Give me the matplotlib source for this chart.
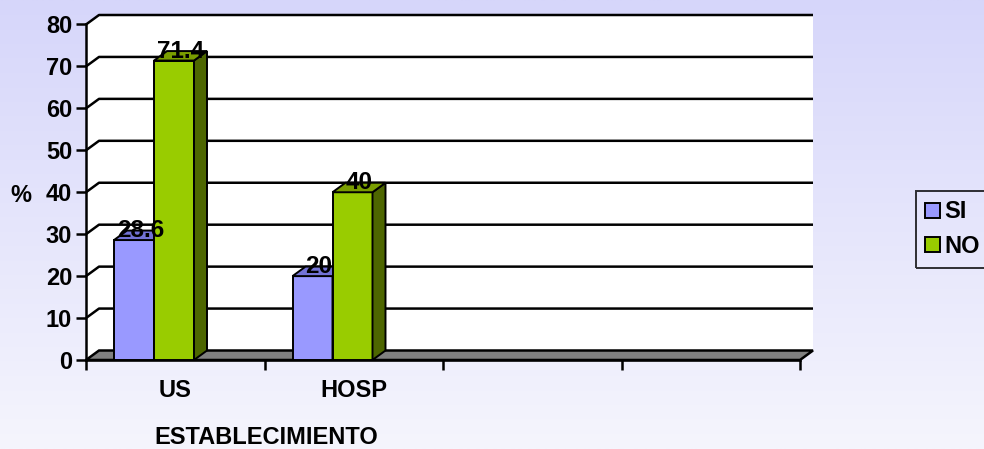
import numpy as np
import matplotlib.pyplot as plt
from matplotlib.patches import Polygon, Patch

# ============== data ==============
categories = ["US", "HOSP", "", ""]
si_values = [28.6, 20]
no_values = [71.4, 40]
series_names = ["SI", "NO"]
y_ticks = [0, 10, 20, 30, 40, 50, 60, 70, 80]

# ============== style ==============
plt.rcParams['font.family'] = ['Liberation Sans', 'DejaVu Sans']
plt.rcParams['font.weight'] = 'bold'
si_front, si_top = '#9999FF', '#7373D6'
no_front, no_side, no_top = '#99CC00', '#4D6600', '#7A9E00'
fs = 17

W, H = 984, 449
fig = plt.figure(figsize=(W / 100, H / 100), dpi=100)

# background gradient
bg = fig.add_axes([0, 0, 1, 1], zorder=-10)
top_c = np.array([214, 214, 250]) / 255
bot_c = np.array([245, 245, 253]) / 255
t = np.linspace(0, 1, 256)[:, None, None]
grad = top_c * (1 - t) + bot_c * t
bg.imshow(np.repeat(grad, 2, axis=1), aspect='auto', extent=[0, 1, 0, 1])
bg.axis('off')

# main axes (front plane)
x0, x1, y_bot, y_top = 86, 800, 360, 24.5
ax = fig.add_axes([x0 / W, 1 - y_bot / H, (x1 - x0) / W, (y_bot - y_top) / H])
ax.set_xlim(0, len(categories))
ax.set_ylim(0, 80)
ax.patch.set_alpha(0)
for s in ['top', 'right']:
    ax.spines[s].set_visible(False)
ax.spines['left'].set_linewidth(1.8)
ax.spines['bottom'].set_linewidth(1.8)

# depth offset in data units
n = len(categories)
dx = 13 / (x1 - x0) * n
dy = 9.5 / (y_bot - y_top) * 80

# walls
wall = Polygon([(0, 0), (0, 80), (dx, 80 + dy), (n + dx, 80 + dy), (n + dx, dy), (n, 0)],
               closed=True, facecolor='white', edgecolor='none', clip_on=False, zorder=0)
ax.add_patch(wall)
for v in y_ticks[1:]:
    ax.plot([0, dx, n + dx], [v, v + dy, v + dy], color='black', lw=1.8,
            clip_on=False, zorder=1, solid_capstyle='butt')
floor = Polygon([(0, 0), (n, 0), (n + dx, dy), (dx, dy)], closed=True,
                facecolor='#808080', edgecolor='black', lw=1.8, clip_on=False, zorder=2)
ax.add_patch(floor)

# bars
bw = 40 / (x1 - x0) * n
off = 28 / (x1 - x0) * n


def bar3d(xs, vals, front, side, top):
    ax.bar(xs, vals, width=bw, align='edge', color=front, edgecolor='black',
           lw=1.4, zorder=3, clip_on=False)
    for xl, v in zip(xs, vals):
        xr = xl + bw
        ax.add_patch(Polygon([(xr, 0), (xr + dx, dy), (xr + dx, v + dy), (xr, v)],
                             closed=True, facecolor=side, edgecolor='black', lw=1.4,
                             zorder=3, clip_on=False))
        ax.add_patch(Polygon([(xl, v), (xr, v), (xr + dx, v + dy), (xl + dx, v + dy)],
                             closed=True, facecolor=top, edgecolor='black', lw=1.4,
                             zorder=3, clip_on=False))
        ax.text(xl + bw / 2 + dx / 2, v + dy, f"{v:g}", ha='center', va='center',
                fontsize=fs + 0.5, fontweight='bold', zorder=5)


pos = np.arange(len(si_values))
bar3d(pos + off, si_values, si_front, '#5555AA', si_top)
bar3d(pos + off + bw, no_values, no_front, no_side, no_top)

# axes ticks
ax.set_yticks(y_ticks)
ax.tick_params(axis='y', direction='out', length=7, width=1.8, pad=3, labelsize=fs)
ax.set_xticks(range(n + 1))
ax.set_xticklabels([])
ax.tick_params(axis='x', which='major', direction='out', length=7, width=1.8)
ax.set_xticks(np.arange(n) + 0.5, minor=True)
ax.set_xticklabels(categories, minor=True, fontsize=fs, fontweight='bold')
ax.tick_params(axis='x', which='minor', length=0, pad=14)
for lab in ax.get_yticklabels():
    lab.set_fontweight('bold')

fig.text(21 / W, 1 - 195 / H, "%", ha='center', va='center', fontsize=fs, fontweight='bold')
fig.text(266 / W, 1 - 438 / H, "ESTABLECIMIENTO", ha='center', va='center',
         fontsize=fs, fontweight='bold')

handles = [Patch(facecolor=si_front, edgecolor='black', lw=1.4),
           Patch(facecolor=no_front, edgecolor='black', lw=1.4)]
leg = fig.legend(handles, series_names, loc='upper left', bbox_to_anchor=(916 / W, 1 - 191 / H),
                 frameon=True, fancybox=False, edgecolor='black', facecolor='none',
                 prop={'weight': 'bold', 'size': fs}, handlelength=0.6, handleheight=0.6,
                 handletextpad=0.2, borderpad=0.4, labelspacing=0.5, borderaxespad=0)
leg.get_frame().set_linewidth(1.4)

fig.savefig("out.png", dpi=100)
